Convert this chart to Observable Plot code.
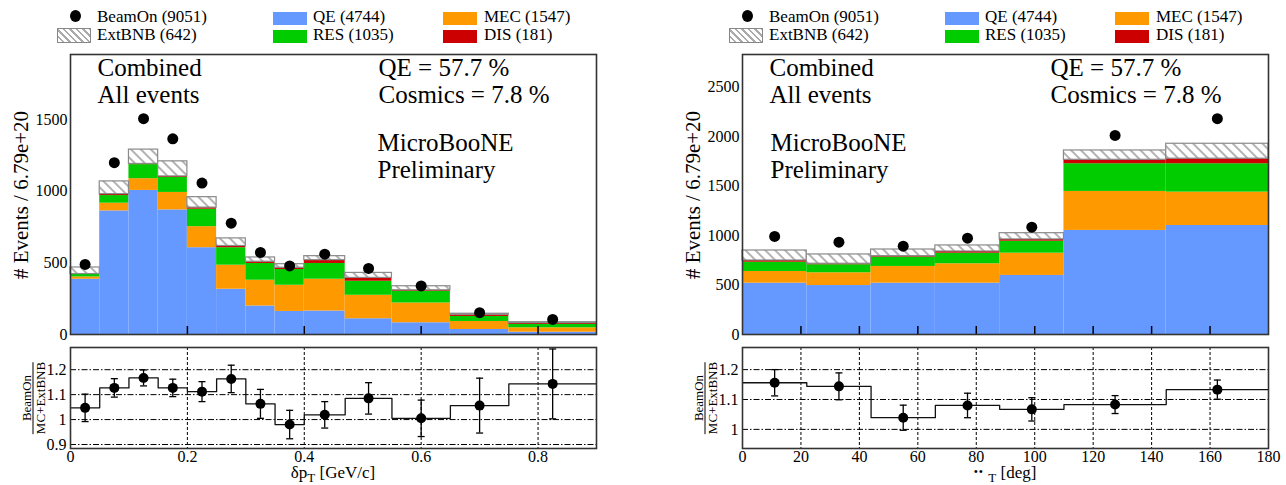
<!DOCTYPE html>
<html>
<head>
<meta charset="utf-8">
<script src="https://cdn.jsdelivr.net/npm/d3@7"></script>
<script src="https://cdn.jsdelivr.net/npm/@observablehq/plot@0.6"></script>
<style>
  body { margin: 0; background: #fff; }
  #root { position: relative; width: 1286px; height: 485px; overflow: hidden;
          font-family: "Liberation Serif", "Times New Roman", Times, serif; color: #000; }
  .leg { position: absolute; font-size: 17px; line-height: 17px; white-space: nowrap; }
  .sw { position: absolute; width: 34px; height: 13px; }
  .hatchsw { position: absolute; width: 32px; height: 13px; border: 1px solid #888;
             background: repeating-linear-gradient(45deg, #fff 0 3px, #aaa 3px 4.6px); }
  .dotsw { position: absolute; width: 11px; height: 12px; border-radius: 50%; background: #000; }
  .ytitle { position: absolute; font-size: 21px; white-space: nowrap; transform: translate(-50%, -50%) rotate(-90deg); }
  .rtitle { position: absolute; transform: translate(-50%, -50%) rotate(-90deg); font-size: 13px; line-height: 13px; text-align: center; }
  .rtitle .num { border-bottom: 1.2px solid #000; padding: 0 1px; }
  .xtitle { position: absolute; font-size: 17px; line-height: 17px; white-space: nowrap; transform: translateX(-50%); }
  .xtitle sub { font-size: 13px; line-height: 0; vertical-align: -4px; }
  .dots { font-size: 12px; line-height: 0; vertical-align: 2px; letter-spacing: 1px; }
</style>
</head>
<body>
<svg width="0" height="0" style="position:absolute">
  <defs>
    <pattern id="hatch" patternUnits="userSpaceOnUse" width="7" height="7" patternTransform="rotate(-45)">
      <rect width="7" height="7" fill="#fff"></rect>
      <line x1="1" y1="0" x2="1" y2="7" stroke="#a0a0a0" stroke-width="1.6"></line>
    </pattern>
  </defs>
</svg>
<div id="root"></div>
<script>
// ---------------- Data ----------------
// Legend
const legendLabels = ["BeamOn (9051)", "ExtBNB (642)", "QE (4744)", "RES (1035)", "MEC (1547)", "DIS (181)"];
const textCombined = ["Combined", "All events"];
const textFractions = ["QE = 57.7 %", "Cosmics = 7.8 %"];
const textMicro = ["MicroBooNE", "Preliminary"];
const yTitle = "# Events / 6.79e+20";

// Left panel: delta p_T [GeV/c]
const ptEdges  = [0, 0.05, 0.1, 0.15, 0.2, 0.25, 0.3, 0.35, 0.4, 0.47, 0.55, 0.65, 0.75, 0.9];
const ptQE     = [386, 863, 1006, 870, 606, 316, 199, 161, 164, 110, 82, 35, 16];
const ptMEC    = [16, 54, 82, 122, 147, 168, 180, 183, 222, 164, 138, 56, 31];
const ptRES    = [17, 53, 98, 105, 122, 122, 117, 110, 110, 98, 82, 35, 23];
const ptDIS    = [3, 10, 5, 7, 11, 12, 12, 12, 23, 23, 7, 12, 9];
const ptExt    = [46, 89, 100, 105, 73, 53, 30, 25, 28, 35, 28, 7, 7];
const ptBeamOn = [489, 1200, 1507, 1366, 1057, 777, 573, 479, 561, 461, 339, 152, 105];
const ptRatio    = [1.047, 1.127, 1.167, 1.127, 1.112, 1.163, 1.063, 0.980, 1.019, 1.085, 1.005, 1.056, 1.143];
const ptRatioErr = [0.055, 0.037, 0.032, 0.035, 0.040, 0.055, 0.058, 0.057, 0.053, 0.063, 0.073, 0.110, 0.140];
const ptYTicks = [0, 500, 1000, 1500];
const ptXTicks = [0, 0.2, 0.4, 0.6, 0.8];
const ptRTicks = [0.9, 1, 1.1, 1.2];

// Right panel: angle [deg]
const angEdges  = [0, 22, 44, 66, 88, 110, 145, 180];
const angQE     = [519, 495, 519, 519, 597, 1052, 1102];
const angMEC    = [118, 129, 169, 196, 225, 394, 337];
const angRES    = [94, 81, 94, 107, 121, 280, 287];
const angDIS    = [17, 10, 10, 17, 18, 40, 51];
const angExt    = [101, 94, 67, 61, 63, 94, 151];
const angBeamOn = [991, 933, 893, 974, 1085, 2012, 2181];
const angRatio    = [1.156, 1.144, 1.039, 1.080, 1.067, 1.083, 1.133];
const angRatioErr = [0.044, 0.045, 0.042, 0.041, 0.039, 0.030, 0.032];
const angYTicks = [0, 500, 1000, 1500, 2000, 2500];
const angXTicks = [0, 20, 40, 60, 80, 100, 120, 140, 160, 180];
const angRTicks = [1, 1.1, 1.2];

// ---------------- Styling ----------------
const SERIF = '"Liberation Serif", "Times New Roman", Times, serif';
const compKeys = ["QE", "MEC", "RES", "DIS"];
const compColors = ["#6699ff", "#ff9900", "#00cc00", "#cc0000"];

const panels = [
  { offset: 0, edges: ptEdges, qe: ptQE, mec: ptMEC, res: ptRES, dis: ptDIS, ext: ptExt,
    beamOn: ptBeamOn, ratio: ptRatio, ratioErr: ptRatioErr,
    xDomain: [0, 0.9], yDomain: [0, 1955], rDomain: [0.884, 1.289],
    yTicks: ptYTicks, xTicks: ptXTicks, rTicks: ptRTicks, microDx: 307,
    xTitle: 'δp<sub>T</sub> [GeV/c]' },
  { offset: 672, edges: angEdges, qe: angQE, mec: angMEC, res: angRES, dis: angDIS, ext: angExt,
    beamOn: angBeamOn, ratio: angRatio, ratioErr: angRatioErr,
    xDomain: [0, 180], yDomain: [0, 2830], rDomain: [0.936, 1.274],
    yTicks: angYTicks, xTicks: angXTicks, rTicks: angRTicks, microDx: 28,
    xTitle: '<span class="dots">••</span> <sub>T</sub> [deg]' }
];

const root = document.getElementById("root");
const fmt = d => String(d);
const capSymbol = { draw(ctx, size) { const w = Math.sqrt(size / Math.PI); ctx.moveTo(-w, 0); ctx.lineTo(w, 0); } };

function svgStyle(left, top) {
  return { fontFamily: SERIF, fontSize: "16px", color: "#000", background: "transparent", overflow: "visible",
           position: "absolute", left: left + "px", top: top + "px" };
}

function makeTop(P) {
  const comps = [["QE", P.qe], ["MEC", P.mec], ["RES", P.res], ["DIS", P.dis], ["ExtBNB", P.ext]];
  const rows = [];
  for (let i = 0; i < P.edges.length - 1; i++) {
    let base = 0;
    for (const [key, vals] of comps) {
      rows.push({ x1: P.edges[i], x2: P.edges[i + 1], y1: base, y2: base + vals[i], key });
      base += vals[i];
    }
  }
  const mc = rows.filter(r => r.key !== "ExtBNB");
  const ext = rows.filter(r => r.key === "ExtBNB");
  const pts = P.beamOn.map((v, i) => ({ x: (P.edges[i] + P.edges[i + 1]) / 2, y: v }));
  const inner = P.xTicks.filter(t => t > P.xDomain[0] && t < P.xDomain[1]);
  const txt = (lines, dx, dy) => Plot.text([lines.join("\n")], {
    text: d => d, frameAnchor: "top-left", textAnchor: "start", lineAnchor: "top",
    dx, dy, fontSize: 25, lineHeight: 1.08, fill: "#000"
  });
  return Plot.plot({
    width: 610, height: 345, marginLeft: 70, marginRight: 14, marginTop: 54, marginBottom: 11,
    style: svgStyle(P.offset, 0),
    x: { domain: P.xDomain },
    y: { domain: P.yDomain },
    color: { domain: compKeys, range: compColors },
    marks: [
      Plot.rect(mc, { x1: "x1", x2: "x2", y1: "y1", y2: "y2", fill: "key" }),
      Plot.rect(ext, { x1: "x1", x2: "x2", y1: "y1", y2: "y2", fill: "url(#hatch)", stroke: "#8a8a8a", strokeWidth: 1.2 }),
      Plot.dot(pts, { x: "x", y: "y", r: 5.5, fill: "#000" }),
      Plot.axisY({ ticks: P.yTicks, tickSize: 0, tickPadding: 3, tickFormat: fmt, label: null }),
      Plot.axisX({ ticks: inner, tickSize: -8, tickFormat: () => "", label: null, strokeWidth: 1.5 }),
      txt(textCombined, 27, 2.5),
      txt(textFractions, 308, 2.5),
      txt(textMicro, P.microDx, 77),
      Plot.frame({ stroke: "#333", strokeWidth: 1.6 })
    ]
  });
}

function makeRatio(P) {
  const pts = P.ratio.map((r, i) => ({ x: (P.edges[i] + P.edges[i + 1]) / 2, r, lo: r - P.ratioErr[i], hi: r + P.ratioErr[i] }));
  const step = P.ratio.map((r, i) => ({ x: P.edges[i], r }));
  step.push({ x: P.edges[P.edges.length - 1], r: P.ratio[P.ratio.length - 1] });
  const inner = P.xTicks.filter(t => t > P.xDomain[0] && t < P.xDomain[1]);
  return Plot.plot({
    width: 610, height: 140, marginLeft: 70, marginRight: 14, marginTop: 2, marginBottom: 37,
    style: svgStyle(P.offset, 345),
    x: { domain: P.xDomain },
    y: { domain: P.rDomain },
    marks: [
      Plot.gridX(inner, { stroke: "#000", strokeOpacity: 1, strokeWidth: 1, strokeDasharray: "3,2" }),
      Plot.gridY(P.rTicks, { stroke: "#000", strokeOpacity: 1, strokeWidth: 1, strokeDasharray: "6,2,1.5,2" }),
      Plot.axisX({ ticks: P.xTicks, tickSize: 0, tickPadding: 2, tickFormat: fmt, label: null }),
      Plot.axisY({ ticks: P.rTicks, tickSize: 0, tickPadding: 4, tickFormat: fmt, label: null }),
      Plot.line(step, { x: "x", y: "r", curve: "step-after", stroke: "#111", strokeWidth: 1.3 }),
      Plot.ruleX(pts, { x: "x", y1: "lo", y2: "hi", stroke: "#000", strokeWidth: 1.3 }),
      Plot.dot(pts, { x: "x", y: "lo", symbol: capSymbol, r: 3.5, stroke: "#000", strokeWidth: 1.3 }),
      Plot.dot(pts, { x: "x", y: "hi", symbol: capSymbol, r: 3.5, stroke: "#000", strokeWidth: 1.3 }),
      Plot.dot(pts, { x: "x", y: "r", r: 5, fill: "#000" }),
      Plot.frame({ stroke: "#333", strokeWidth: 1.6 })
    ]
  });
}

function addEl(cls, left, top, html) {
  const d = document.createElement("div");
  d.className = cls;
  d.style.left = left + "px";
  d.style.top = top + "px";
  if (html != null) d.innerHTML = html;
  root.appendChild(d);
  return d;
}

for (const P of panels) {
  const o = P.offset;
  root.appendChild(makeTop(P));
  root.appendChild(makeRatio(P));
  // legend
  addEl("dotsw", o + 69.5, 10);
  addEl("leg", o + 97, 8, legendLabels[0]);
  addEl("hatchsw", o + 57, 28);
  addEl("leg", o + 97, 26, legendLabels[1]);
  addEl("sw", o + 273, 12).style.background = compColors[0];
  addEl("leg", o + 313, 8, legendLabels[2]);
  addEl("sw", o + 273, 29.5).style.background = compColors[2];
  addEl("leg", o + 313, 26, legendLabels[3]);
  addEl("sw", o + 443, 12).style.background = compColors[1];
  addEl("leg", o + 484, 8, legendLabels[4]);
  addEl("sw", o + 443, 29.5).style.background = compColors[3];
  addEl("leg", o + 484, 26, legendLabels[5]);
  // axis titles
  addEl("ytitle", o + 21, 195, yTitle);
  addEl("rtitle", o + 33, 398, '<div class="num">BeamOn</div><div>MC+ExtBNB</div>');
  addEl("xtitle", o + 333, 464, P.xTitle);
}
</script>
</body>
</html>
